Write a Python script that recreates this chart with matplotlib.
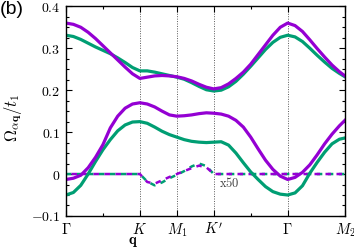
#!/usr/bin/env python3

import matplotlib
matplotlib.use('Agg')
import matplotlib.pyplot as plt
from matplotlib.ticker import MultipleLocator, FixedLocator

plt.rcParams['mathtext.fontset'] = 'cm'
plt.rcParams['font.family'] = ['DejaVu Serif']

# path coordinate: Gamma=0, K=1, M1=1.5, K'=2, Gamma=3, M2=3.775
x = [0.0, 0.1, 0.2, 0.3, 0.4, 0.5, 0.6, 0.7, 0.8, 0.9,
     1.0, 1.1, 1.2, 1.3, 1.4, 1.5, 1.6, 1.7, 1.8, 1.9,
     2.0, 2.1, 2.2, 2.3, 2.4, 2.5, 2.6, 2.7, 2.8, 2.9,
     3.0, 3.1, 3.2, 3.3, 3.4, 3.5, 3.6, 3.7, 3.775]

# upper branch
up_purple = [0.360, 0.357, 0.350, 0.338, 0.323, 0.306, 0.289, 0.272, 0.255, 0.239,
             0.228, 0.231, 0.234, 0.235, 0.234, 0.232, 0.228, 0.222, 0.214, 0.207,
             0.203, 0.206, 0.215, 0.228, 0.243, 0.262, 0.285, 0.308, 0.331, 0.350,
             0.360, 0.354, 0.340, 0.320, 0.299, 0.279, 0.260, 0.244, 0.234]
up_green = [0.331, 0.328, 0.321, 0.312, 0.303, 0.295, 0.287, 0.277, 0.266, 0.254,
            0.246, 0.246, 0.243, 0.239, 0.235, 0.231, 0.226, 0.218, 0.209, 0.201,
            0.198, 0.200, 0.208, 0.221, 0.238, 0.257, 0.277, 0.297, 0.314, 0.326,
            0.331, 0.327, 0.316, 0.300, 0.283, 0.267, 0.252, 0.240, 0.232]

# lower branch
lo_purple = [-0.013, -0.010, -0.003, 0.015, 0.040, 0.070, 0.110, 0.138, 0.157, 0.167,
             0.170, 0.167, 0.160, 0.150, 0.141, 0.138, 0.139, 0.141, 0.144, 0.146,
             0.145, 0.143, 0.138, 0.128, 0.112, 0.088, 0.060, 0.033, 0.011, -0.005,
             -0.013, -0.008, 0.004, 0.022, 0.046, 0.072, 0.095, 0.115, 0.128]
lo_green = [-0.050, -0.044, -0.027, 0.000, 0.030, 0.058, 0.082, 0.103, 0.117, 0.124,
            0.125, 0.121, 0.112, 0.102, 0.094, 0.088, 0.082, 0.078, 0.076, 0.075,
            0.076, 0.077, 0.069, 0.050, 0.027, 0.005, -0.013, -0.030, -0.042, -0.048,
            -0.050, -0.045, -0.028, 0.002, 0.028, 0.052, 0.072, 0.083, 0.086]

# x50 curves
x50_purple = [0, 0, 0, 0, 0, 0, 0, 0, 0, 0,
              0, -0.019, -0.023, -0.015, -0.007, 0.000, 0.007, 0.014, 0.020, 0.016,
              0, 0, 0, 0, 0, 0, 0, 0, 0, 0,
              0, 0, 0, 0, 0, 0, 0, 0, 0]
x50_green = [0, 0, 0, 0, 0, 0, 0, 0, 0, 0,
             0, -0.018, -0.027, -0.020, -0.010, -0.002, 0.007, 0.018, 0.025, 0.019,
             0, 0, 0, 0, 0, 0, 0, 0, 0, 0,
             0, 0, 0, 0, 0, 0, 0, 0, 0]

sym_pos = [0, 1, 1.5, 2, 3, 3.775]
sym_lab = [r'$\Gamma$', r'$K$', r'$M_1$', r"$K'$", r'$\Gamma$', r'$M_2$']
yticks = [-0.1, 0, 0.1, 0.2, 0.3, 0.4]
ylabs = [r'$-0.1$', r'$0$', r'$0.1$', r'$0.2$', r'$0.3$', r'$0.4$']

purple = '#9400d3'
green = '#009e73'

fig = plt.figure(figsize=(3.54, 2.52), dpi=100)
ax = fig.add_axes([0.1864, 0.143, 0.788, 0.832])

for p in sym_pos[1:5]:
    ax.axvline(p, color='0.35', ls=(0, (1, 1.5)), lw=0.7, zorder=0)

ax.plot(x, x50_green, color=green, lw=1.8, ls=(0, (2.2, 2.2)))
ax.plot(x, x50_purple, color=purple, lw=1.8, ls=(2.2, (2.2, 2.2)))

ax.plot(x, up_green, color=green, lw=2.3)
ax.plot(x, up_purple, color=purple, lw=2.3)
ax.plot(x, lo_green, color=green, lw=2.3)
ax.plot(x, lo_purple, color=purple, lw=2.3)

ax.text(2.07, -0.022, r'$\mathrm{x50}$', fontsize=9, ha='left', va='center',
        color='0.25')

ax.set_xlim(0, 3.775)
ax.set_ylim(-0.1, 0.4)
ax.xaxis.set_major_locator(FixedLocator(sym_pos))
ax.xaxis.set_minor_locator(FixedLocator([0.5, 2.5]))
ax.set_xticklabels(sym_lab, fontsize=10.5)
ax.set_yticks(yticks)
ax.set_yticklabels(ylabs, fontsize=10)
ax.yaxis.set_minor_locator(MultipleLocator(0.025))
ax.tick_params(which='both', direction='in', top=True, right=True, width=0.8)
ax.tick_params(which='major', length=4, pad=4)
ax.tick_params(which='minor', length=2.5)
for s in ax.spines.values():
    s.set_linewidth(1.0)

ax.set_xlabel(r'$\mathbf{q}$', fontsize=10.5)
ax.xaxis.set_label_coords(0.24, -0.092)
ax.set_ylabel(r'$\Omega_{\alpha\mathbf{q}}/t_1$', fontsize=12)
ax.yaxis.set_label_coords(-0.15, 0.47)

fig.text(0.0, 0.998, '(b)', fontsize=14, family='Liberation Sans',
         ha='left', va='top')

fig.savefig('out.png', dpi=100)
